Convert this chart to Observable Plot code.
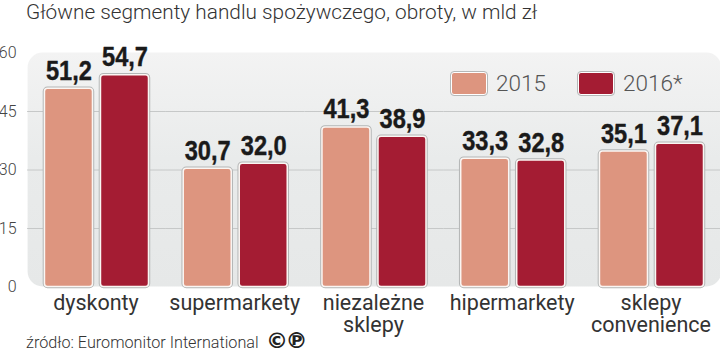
<!DOCTYPE html>
<html><head><meta charset="utf-8">
<script src="https://cdn.jsdelivr.net/npm/d3@7"></script>
<script src="https://cdn.jsdelivr.net/npm/@observablehq/plot@0.6"></script>
<style>
html,body{margin:0;padding:0;background:#fff;width:720px;height:354px;overflow:hidden;position:relative}
#title{position:absolute;left:26px;top:-3px;font:300 20.8px/30px Roboto,sans-serif;color:#333;white-space:nowrap}
#chart{position:absolute;left:0;top:30px}
#source{position:absolute;left:26px;top:333px;font:300 16.2px/20px Roboto,sans-serif;color:#333;white-space:nowrap}
#cp{position:absolute;left:266px;top:328px;font:bold 22px/26px "DejaVu Sans",sans-serif;color:#222;letter-spacing:-2.5px}
.leg{position:absolute;top:72px;display:flex;align-items:center;font:300 22.5px/23px Roboto,sans-serif;color:#555}
.leg i{display:block;width:34px;height:21px;border:1.5px solid #fff;outline:1px solid #b5b8b8;border-radius:3px;margin-right:9px}
</style></head><body>
<div id="title">Główne segmenty handlu spożywczego, obroty, w mld zł</div>
<div id="chart"></div>
<div id="legend"></div>
<div id="source">źródło: Euromonitor International</div>
<div id="cp">©℗</div>
<script>
const categories = ["dyskonty","supermarkety","niezależne\nsklepy","hipermarkety","sklepy\nconvenience"];
const years = ["2015","2016*"];
const values2015 = [51.2,30.7,41.3,33.3,35.1];
const values2016 = [54.7,32.0,38.9,32.8,37.1];
const yTicks = [0,15,30,45,60];
const gridTicks = [15,30,45];
const colors = ["#dd957f","#a41c33"];

const rows = categories.flatMap((c,i)=>[
  {cat:c,year:years[0],value:values2015[i]},
  {cat:c,year:years[1],value:values2016[i]}
]);
const fmt = d => d.toFixed(1).replace(".",",");

const plot = Plot.plot({
  width:720,height:304,
  marginTop:22,marginBottom:48,marginLeft:26,marginRight:0,
  style:{fontFamily:"Roboto,sans-serif",background:"transparent",overflow:"visible"},
  fx:{domain:categories,range:[27.1,720.85],padding:0,round:false,label:null,axis:null},
  x:{domain:years,padding:0.143,paddingOuter:0.31,round:false,axis:null,label:null},
  y:{domain:[0,60],range:[256.5,22.5],axis:null,label:null},
  color:{domain:years,range:colors},
  marks:[
    Plot.frame({facet:"super",fill:"url(#panel)",stroke:"none",rx:15}),
    Plot.ruleY(gridTicks,{stroke:"#c6c8c8",strokeWidth:1}),
    Plot.axisY(yTicks,{anchor:"left",tickSize:0,tickPadding:11,fontSize:16,fontWeight:300,fill:"#444",label:null}),
    Plot.barY(rows,{fx:"cat",x:"year",y:"value",fill:"#b3b6b6",stroke:"#b3b6b6",strokeWidth:3.5,rx:3,insetTop:1.5}),
    Plot.barY(rows,{fx:"cat",x:"year",y:"value",fill:"year",stroke:"#fbf6f3",strokeWidth:1.5,rx:3,insetTop:1.5}),
    Plot.text(rows,{fx:"cat",x:"year",y:"value",text:d=>fmt(d.value),dy:-7.5,lineAnchor:"bottom",className:"vals",
      fontFamily:"'Liberation Sans',sans-serif",fontWeight:"bold",fontSize:27.5,fill:"#1a1a1a",stroke:"#1a1a1a",strokeWidth:0.4}),
    Plot.axisFx({anchor:"bottom",tickSize:0,tickPadding:7,dx:-1,fontSize:21.5,fontWeight:400,fill:"#333",label:null,lineHeight:1.05,textOverflow:null})
  ]
});
d3.select(plot).selectAll(".vals text").attr("textLength",46).attr("lengthAdjust","spacingAndGlyphs");
const defs = d3.select(plot).insert("defs",":first-child");
const g = defs.append("linearGradient").attr("id","panel").attr("x1",0).attr("x2",0).attr("y1",0).attr("y2",1);
g.append("stop").attr("offset","0%").attr("stop-color","#f3f3f3");
g.append("stop").attr("offset","45%").attr("stop-color","#e9ebeb");
g.append("stop").attr("offset","100%").attr("stop-color","#e6e8e8");
document.getElementById("chart").appendChild(plot);

const legendX = [451,578];
const legend = document.getElementById("legend");
years.forEach((y,i)=>{
  const d=document.createElement("div");d.className="leg";d.style.left=legendX[i]+"px";
  const s=document.createElement("i");s.style.background=colors[i];
  d.appendChild(s);d.appendChild(document.createTextNode(y));legend.appendChild(d);
});
</script></body></html>
